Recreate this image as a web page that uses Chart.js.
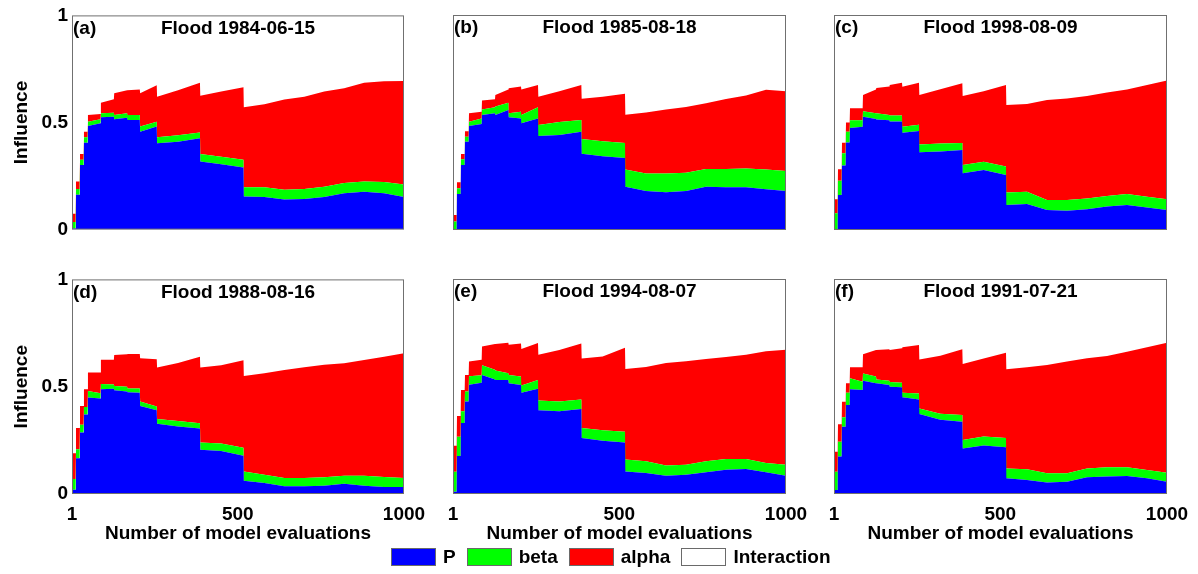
<!DOCTYPE html>
<html>
<head>
<meta charset="utf-8">
<script src="https://cdn.jsdelivr.net/npm/chart.js@4.4.0/dist/chart.umd.min.js"></script>
<style>
    body { margin: 0; background: #fff; }
    #wrap {
        position: relative;
        width: 1198px;
        height: 574px;
        overflow: hidden;
        background: #fff;
        font-family: 'Liberation Sans', Arial, sans-serif;
        font-weight: bold;
    }
    #wrap canvas { position: absolute; }
    #legend {
        position: absolute;
        left: 391px;
        top: 548px;
        display: flex;
        align-items: center;
        font-size: 19px;
        color: #000;
        z-index: 5;
    }
    #legend .sw {
        width: 45px;
        height: 18px;
        box-sizing: border-box;
        border: 1px solid #6a6a6a;
        margin-right: 7px;
    }
    #legend .lbl { margin-right: 11px; line-height: 18px; }
</style>
</head>
<body>
<div id="wrap">
    <div id="legend"></div>
</div>
<script>
// Model evaluation numbers where values were read (pairs mark the jumps)
const evaluations = [1, 12, 13, 24, 25, 36, 37, 48, 49, 87, 88, 127, 128, 167, 168, 205, 206, 256, 257, 320, 386, 387, 450, 517, 518, 580, 640, 700, 760, 820, 880, 940, 1000];

const xTicks = [1, 500, 1000];
const yTicks = [0, 0.5, 1];

const panelTags = ['(a)', '(b)', '(c)', '(d)', '(e)', '(f)'];
const floodTitles = ['Flood 1984-06-15', 'Flood 1985-08-18', 'Flood 1998-08-09', 'Flood 1988-08-16', 'Flood 1994-08-07', 'Flood 1991-07-21'];

const seriesLabels = ['P', 'beta', 'alpha', 'Interaction'];
const seriesColors = ['#0000ff', '#00ff00', '#ff0000', '#ffffff'];

// (a) Flood 1984-06-15
const pA = [.005, .005, .163, .163, .302, .302, .406, .406, .484, .496, .524, .527, .515, .522, .512, .512, .457, .481, .403, .41, .426, .318, .305, .29, .155, .152, .14, .143, .152, .17, .177, .17, .152];
const betaA = [.03, .03, .026, .026, .024, .024, .025, .025, .02, .019, .019, .018, .02, .021, .023, .023, .024, .023, .028, .03, .027, .035, .035, .036, .043, .046, .046, .047, .048, .048, .048, .052, .058];
const alphaA = [.039, .039, .036, .036, .027, .027, .026, .026, .031, .025, .049, .063, .101, .108, .116, .119, .155, .17, .189, .21, .232, .272, .305, .338, .373, .387, .421, .43, .445, .442, .46, .471, .484];

// (b) Flood 1985-08-18
const pB = [.003, .003, .167, .167, .302, .302, .411, .411, .484, .493, .535, .543, .535, .558, .524, .519, .496, .519, .437, .442, .457, .355, .343, .335, .201, .181, .176, .181, .201, .199, .199, .189, .181];
const betaB = [.036, .036, .027, .027, .027, .027, .023, .023, .02, .026, .026, .028, .039, .034, .019, .031, .039, .052, .051, .06, .055, .068, .07, .07, .08, .082, .087, .085, .083, .085, .087, .092, .093];
const alphaB = [.031, .031, .028, .028, .024, .024, .025, .025, .039, .031, .041, .037, .054, .062, .116, .117, .119, .103, .132, .143, .162, .187, .207, .229, .255, .284, .297, .306, .306, .325, .34, .371, .371];

// (c) Flood 1998-08-09
const pC = [.003, .003, .163, .163, .30, .30, .407, .407, .475, .48, .527, .516, .514, .51, .505, .505, .452, .46, .362, .365, .372, .264, .279, .256, .116, .121, .093, .09, .096, .109, .116, .105, .093];
const betaC = [.075, .075, .066, .066, .057, .057, .05, .05, .035, .03, .025, .027, .029, .025, .027, .027, .028, .03, .036, .037, .033, .038, .039, .039, .058, .057, .047, .05, .051, .049, .051, .05, .05];
const alphaC = [.065, .065, .053, .053, .049, .049, .043, .043, .056, .056, .076, .111, .117, .132, .143, .153, .186, .195, .23, .253, .277, .321, .327, .379, .407, .408, .465, .472, .476, .481, .487, .519, .552];

// (d) Flood 1988-08-16
const pD = [.02, .02, .167, .167, .286, .286, .37, .37, .45, .445, .488, .49, .483, .478, .474, .472, .41, .39, .327, .315, .305, .206, .2, .178, .062, .051, .036, .036, .039, .048, .039, .033, .033];
const betaD = [.05, .05, .042, .042, .037, .037, .035, .035, .03, .025, .025, .02, .02, .022, .018, .02, .021, .018, .023, .025, .025, .034, .035, .037, .043, .039, .038, .038, .039, .037, .046, .046, .041];
const alphaD = [.12, .12, .098, .098, .087, .087, .083, .083, .086, .096, .113, .116, .145, .151, .16, .16, .202, .22, .24, .27, .31, .35, .365, .408, .445, .473, .504, .517, .524, .524, .54, .561, .582];

// (e) Flood 1994-08-07
const pE = [.011, .011, .177, .177, .33, .33, .43, .43, .508, .517, .554, .532, .53, .53, .515, .507, .471, .49, .39, .385, .395, .26, .248, .24, .105, .098, .085, .09, .101, .113, .116, .101, .085];
const betaE = [.093, .093, .089, .089, .055, .055, .047, .047, .04, .035, .045, .046, .045, .032, .038, .039, .034, .04, .045, .045, .045, .047, .049, .05, .055, .054, .047, .046, .051, .05, .047, .043, .051];
const alphaE = [.12, .12, .097, .097, .099, .099, .077, .077, .068, .073, .087, .12, .123, .142, .141, .154, .17, .172, .213, .24, .26, .323, .343, .39, .421, .439, .477, .481, .476, .474, .485, .52, .535];

// (f) Flood 1991-07-21
const pF = [.019, .019, .174, .174, .313, .313, .414, .414, .487, .484, .527, .515, .515, .507, .499, .496, .45, .44, .372, .345, .336, .212, .226, .218, .073, .065, .053, .057, .078, .081, .084, .073, .057];
const betaF = [.085, .085, .069, .069, .044, .044, .057, .057, .051, .038, .034, .031, .018, .02, .022, .022, .021, .028, .026, .028, .031, .039, .041, .043, .046, .05, .043, .039, .041, .043, .04, .039, .042];
const alphaF = [.093, .093, .081, .081, .072, .072, .044, .044, .051, .067, .089, .124, .137, .146, .149, .16, .211, .225, .228, .27, .306, .354, .363, .396, .461, .474, .504, .52, .512, .518, .538, .57, .605];

const panelSeries = [
    [pA, betaA, alphaA],
    [pB, betaB, alphaB],
    [pC, betaC, alphaC],
    [pD, betaD, alphaD],
    [pE, betaE, alphaE],
    [pF, betaF, alphaF]
];

// layout of the 2x3 grid
const colLeft = [0, 440, 821];
const colWidth = [429, 371, 371];
const yAxisWidth = [72, 13, 13];
const rowTop = [0, 264];
const rowHeight = [245, 290];
const xAxisHeight = [15, 60];

const boldFont = { family: "'Liberation Sans', Arial, sans-serif", size: 19, weight: 'bold' };

// frame + "(a)  Flood ..." labels drawn inside the plot box
const panelFrame = {
    id: 'panelFrame',
    afterDraw(chart, args, opts) {
        const { ctx, chartArea: a } = chart;
        ctx.save();
        ctx.strokeStyle = '#707070';
        ctx.lineWidth = 1;
        ctx.strokeRect(a.left + 0.5, a.top + 0.5, a.right - a.left - 1, a.bottom - a.top - 1);
        ctx.fillStyle = '#000';
        ctx.font = "bold 19px 'Liberation Sans', Arial, sans-serif";
        ctx.textBaseline = 'middle';
        ctx.textAlign = 'left';
        ctx.fillText(opts.tag, a.left + 1, a.top + 13);
        ctx.textAlign = 'center';
        ctx.fillText(opts.title, (a.left + a.right) / 2, a.top + 13);
        ctx.restore();
    }
};

function buildPanel(index) {
    const row = Math.floor(index / 3);
    const col = index % 3;
    const bottomRow = row === 1;
    const leftCol = col === 0;

    const canvas = document.createElement('canvas');
    canvas.width = colWidth[col];
    canvas.height = rowHeight[row];
    canvas.style.left = colLeft[col] + 'px';
    canvas.style.top = rowTop[row] + 'px';
    document.getElementById('wrap').appendChild(canvas);

    const series = panelSeries[index];

    return new Chart(canvas, {
        type: 'line',
        data: {
            labels: evaluations,
            datasets: series.map((values, i) => ({
                label: seriesLabels[i],
                data: values,
                backgroundColor: seriesColors[i],
                borderColor: seriesColors[i],
                borderWidth: 0,
                pointRadius: 0,
                tension: 0,
                fill: i === 0 ? 'origin' : '-1'
            }))
        },
        options: {
            responsive: false,
            animation: false,
            layout: { padding: { top: 15, right: 25, left: 0, bottom: 0 } },
            plugins: {
                legend: { display: false },
                tooltip: { enabled: false },
                panelFrame: { tag: panelTags[index], title: floodTitles[index] }
            },
            scales: {
                x: {
                    type: 'linear',
                    min: 1,
                    max: 1000,
                    grid: { display: false, drawTicks: false },
                    border: { display: false },
                    afterBuildTicks: scale => { scale.ticks = xTicks.map(v => ({ value: v })); },
                    afterFit: scale => {
                        scale.height = xAxisHeight[row];
                        // labels may hang over the plot edges, layout padding already leaves room
                        scale.paddingLeft = 0;
                        scale.paddingRight = 0;
                    },
                    ticks: {
                        display: bottomRow,
                        padding: 9,
                        maxRotation: 0,
                        font: boldFont,
                        color: '#000',
                        callback: value => String(value)
                    },
                    title: {
                        display: bottomRow,
                        text: 'Number of model evaluations',
                        font: boldFont,
                        color: '#000',
                        padding: { top: 0, bottom: 9 }
                    }
                },
                y: {
                    stacked: true,
                    min: 0,
                    max: 1,
                    grid: { display: false, drawTicks: false },
                    border: { display: false },
                    afterBuildTicks: scale => { scale.ticks = yTicks.map(v => ({ value: v })); },
                    afterFit: scale => { scale.width = yAxisWidth[col]; },
                    ticks: {
                        display: leftCol,
                        padding: 4,
                        font: boldFont,
                        color: '#000',
                        callback: value => String(value)
                    },
                    title: {
                        display: leftCol,
                        text: 'Influence',
                        font: boldFont,
                        color: '#000',
                        padding: { top: 10, bottom: 0 }
                    }
                }
            }
        },
        plugins: [panelFrame]
    });
}

function buildLegend() {
    const legend = document.getElementById('legend');
    legend.innerHTML = seriesLabels.map((label, i) => `
        <div class="sw" style="background:${seriesColors[i]}"></div>
        <div class="lbl">${label}</div>
    `).join('');
}

document.addEventListener('DOMContentLoaded', function() {
    for (let i = 0; i < panelSeries.length; i++) {
        buildPanel(i);
    }
    buildLegend();
});
</script>
</body>
</html>
